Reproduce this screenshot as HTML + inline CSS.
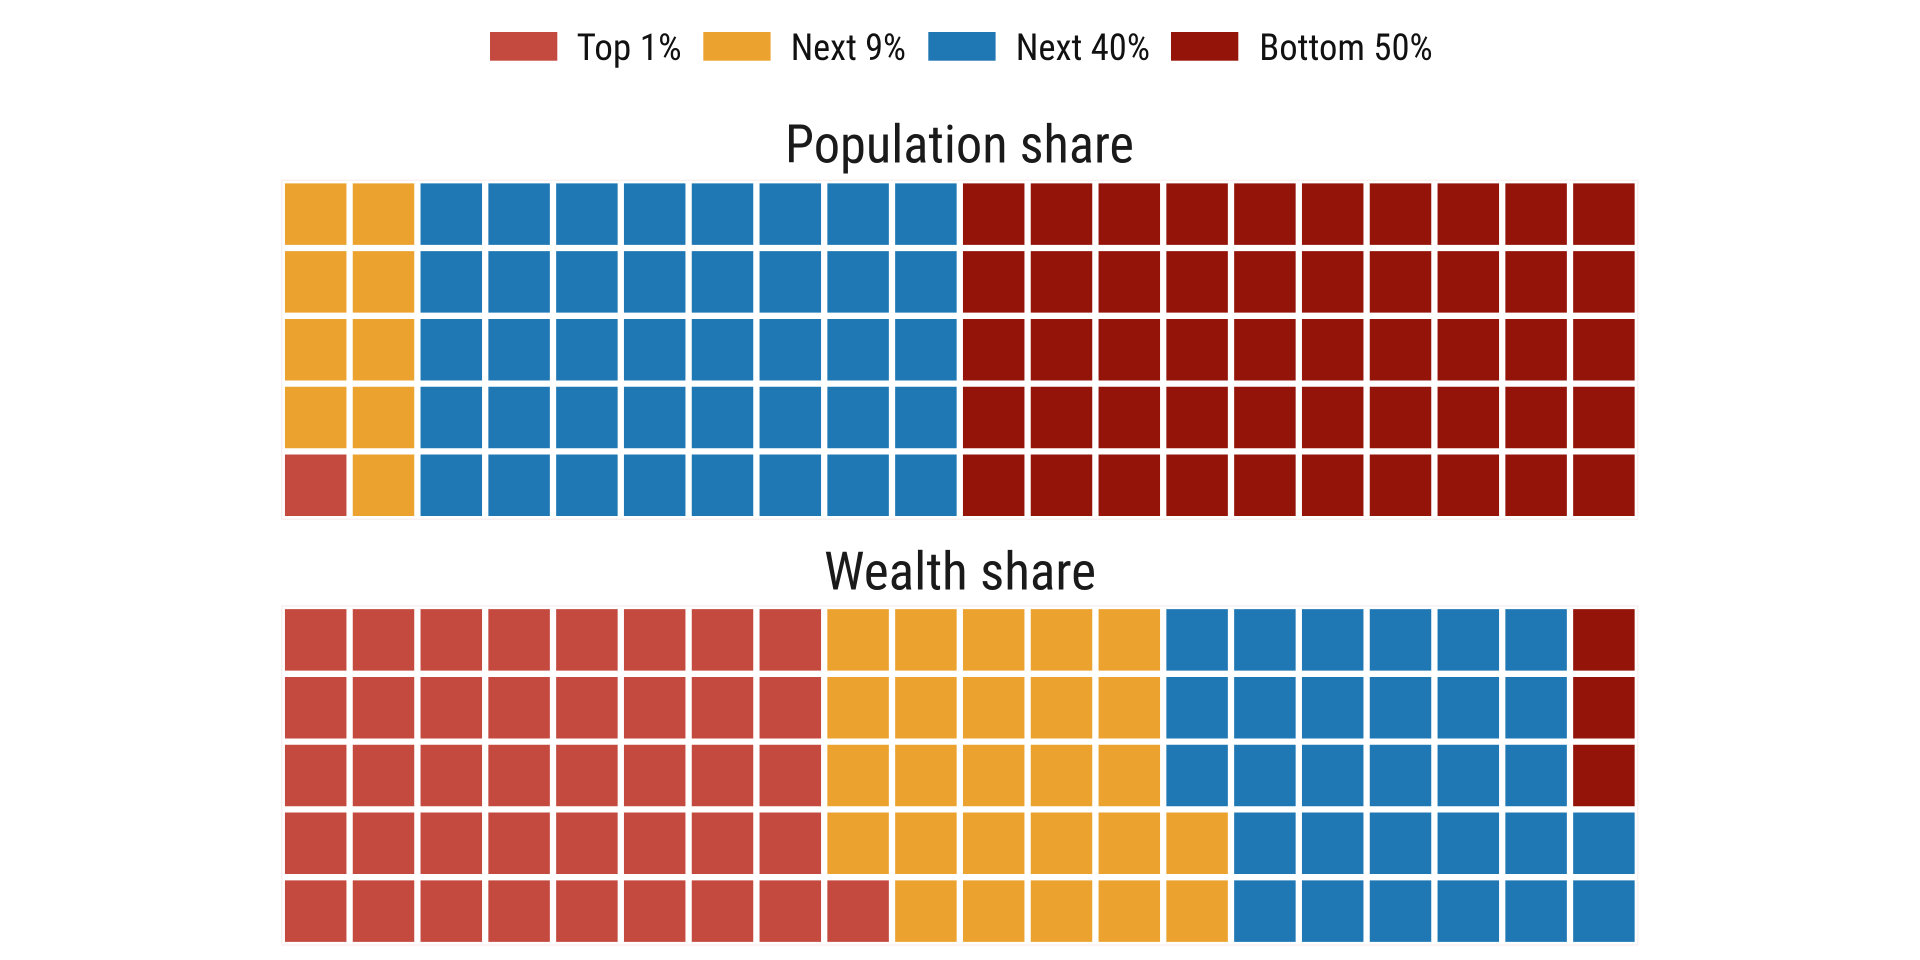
<!DOCTYPE html>
<html>
<head>
<meta charset="utf-8">
<style>
html,body{margin:0;padding:0;background:#fff;}
svg{display:block;}
text{font-family:"Roboto Condensed","Liberation Sans Narrow","Liberation Sans",sans-serif;}
</style>
</head>
<body>
<svg width="1920" height="960" viewBox="0 0 1920 960" xmlns="http://www.w3.org/2000/svg">
<rect x="0" y="0" width="1920" height="960" fill="#fff"/>

<!-- Legend -->
<rect x="490" y="32" width="67.3" height="28.7" fill="#C4493E"/>
<text x="576.7" y="60" font-size="37" fill="#111" textLength="105" lengthAdjust="spacingAndGlyphs">Top 1%</text>
<rect x="703.3" y="32" width="67.3" height="28.7" fill="#ECA22F"/>
<text x="790.7" y="60" font-size="37" fill="#111" textLength="115.3" lengthAdjust="spacingAndGlyphs">Next 9%</text>
<rect x="928.3" y="32" width="67.3" height="28.7" fill="#1F78B4"/>
<text x="1015.7" y="60" font-size="37" fill="#111" textLength="134.3" lengthAdjust="spacingAndGlyphs">Next 40%</text>
<rect x="1171" y="32" width="67.3" height="28.7" fill="#941409"/>
<text x="1259.3" y="60" font-size="37" fill="#111" textLength="173.4" lengthAdjust="spacingAndGlyphs">Bottom 50%</text>

<!-- Titles -->
<text x="785" y="162.5" font-size="52.5" fill="#1a1a1a" textLength="349" lengthAdjust="spacingAndGlyphs">Population share</text>
<text x="824" y="589.3" font-size="52.5" fill="#1a1a1a" textLength="272" lengthAdjust="spacingAndGlyphs">Wealth share</text>

<!-- Population grid color regions -->
<g>
<rect x="281.8" y="180.2" width="135.6" height="339" fill="#ECA22F"/>
<rect x="281.8" y="451.4" width="67.8" height="67.8" fill="#C4493E"/>
<rect x="417.4" y="180.2" width="542.4" height="339" fill="#1F78B4"/>
<rect x="959.8" y="180.2" width="678" height="339" fill="#941409"/>
</g>
<rect x="281.8" y="180.2" width="1356" height="339" fill="none" stroke="#f2e6e4" stroke-width="1"/>

<!-- Wealth grid color regions -->
<g>
<rect x="281.8" y="606" width="542.4" height="339" fill="#C4493E"/>
<rect x="824.2" y="877.2" width="67.8" height="67.8" fill="#C4493E"/>
<rect x="824.2" y="606" width="67.8" height="271.2" fill="#ECA22F"/>
<rect x="892" y="606" width="271.2" height="339" fill="#ECA22F"/>
<rect x="1163.2" y="809.4" width="67.8" height="135.6" fill="#ECA22F"/>
<rect x="1163.2" y="606" width="67.8" height="203.4" fill="#1F78B4"/>
<rect x="1231" y="606" width="339" height="339" fill="#1F78B4"/>
<rect x="1570" y="809.4" width="67.8" height="135.6" fill="#1F78B4"/>
<rect x="1570" y="606" width="67.8" height="203.4" fill="#941409"/>
</g>
<rect x="281.8" y="606" width="1356" height="339" fill="none" stroke="#f2e6e4" stroke-width="1"/>

<!-- White grid lines (tile borders) -->
<g stroke="#fff" stroke-width="6.3" fill="none">
<path d="M281.8 177 V522.4 M349.6 177 V522.4 M417.4 177 V522.4 M485.2 177 V522.4 M553 177 V522.4 M620.8 177 V522.4 M688.6 177 V522.4 M756.4 177 V522.4 M824.2 177 V522.4 M892 177 V522.4 M959.8 177 V522.4 M1027.6 177 V522.4 M1095.4 177 V522.4 M1163.2 177 V522.4 M1231 177 V522.4 M1298.8 177 V522.4 M1366.6 177 V522.4 M1434.4 177 V522.4 M1502.2 177 V522.4 M1570 177 V522.4 M1637.8 177 V522.4"/>
<path d="M278.6 180.2 H1641 M278.6 248 H1641 M278.6 315.8 H1641 M278.6 383.6 H1641 M278.6 451.4 H1641 M278.6 519.2 H1641"/>
<path d="M281.8 602.8 V948.2 M349.6 602.8 V948.2 M417.4 602.8 V948.2 M485.2 602.8 V948.2 M553 602.8 V948.2 M620.8 602.8 V948.2 M688.6 602.8 V948.2 M756.4 602.8 V948.2 M824.2 602.8 V948.2 M892 602.8 V948.2 M959.8 602.8 V948.2 M1027.6 602.8 V948.2 M1095.4 602.8 V948.2 M1163.2 602.8 V948.2 M1231 602.8 V948.2 M1298.8 602.8 V948.2 M1366.6 602.8 V948.2 M1434.4 602.8 V948.2 M1502.2 602.8 V948.2 M1570 602.8 V948.2 M1637.8 602.8 V948.2"/>
<path d="M278.6 606 H1641 M278.6 673.8 H1641 M278.6 741.6 H1641 M278.6 809.4 H1641 M278.6 877.2 H1641 M278.6 945 H1641"/>
</g>

<!-- faint outer edges -->
<rect x="281.8" y="180.2" width="1356" height="339" fill="none" stroke="#ead7d3" stroke-opacity="0.5" stroke-width="1"/>
<rect x="281.8" y="606" width="1356" height="339" fill="none" stroke="#ead7d3" stroke-opacity="0.5" stroke-width="1"/>
</svg>
</body>
</html>
